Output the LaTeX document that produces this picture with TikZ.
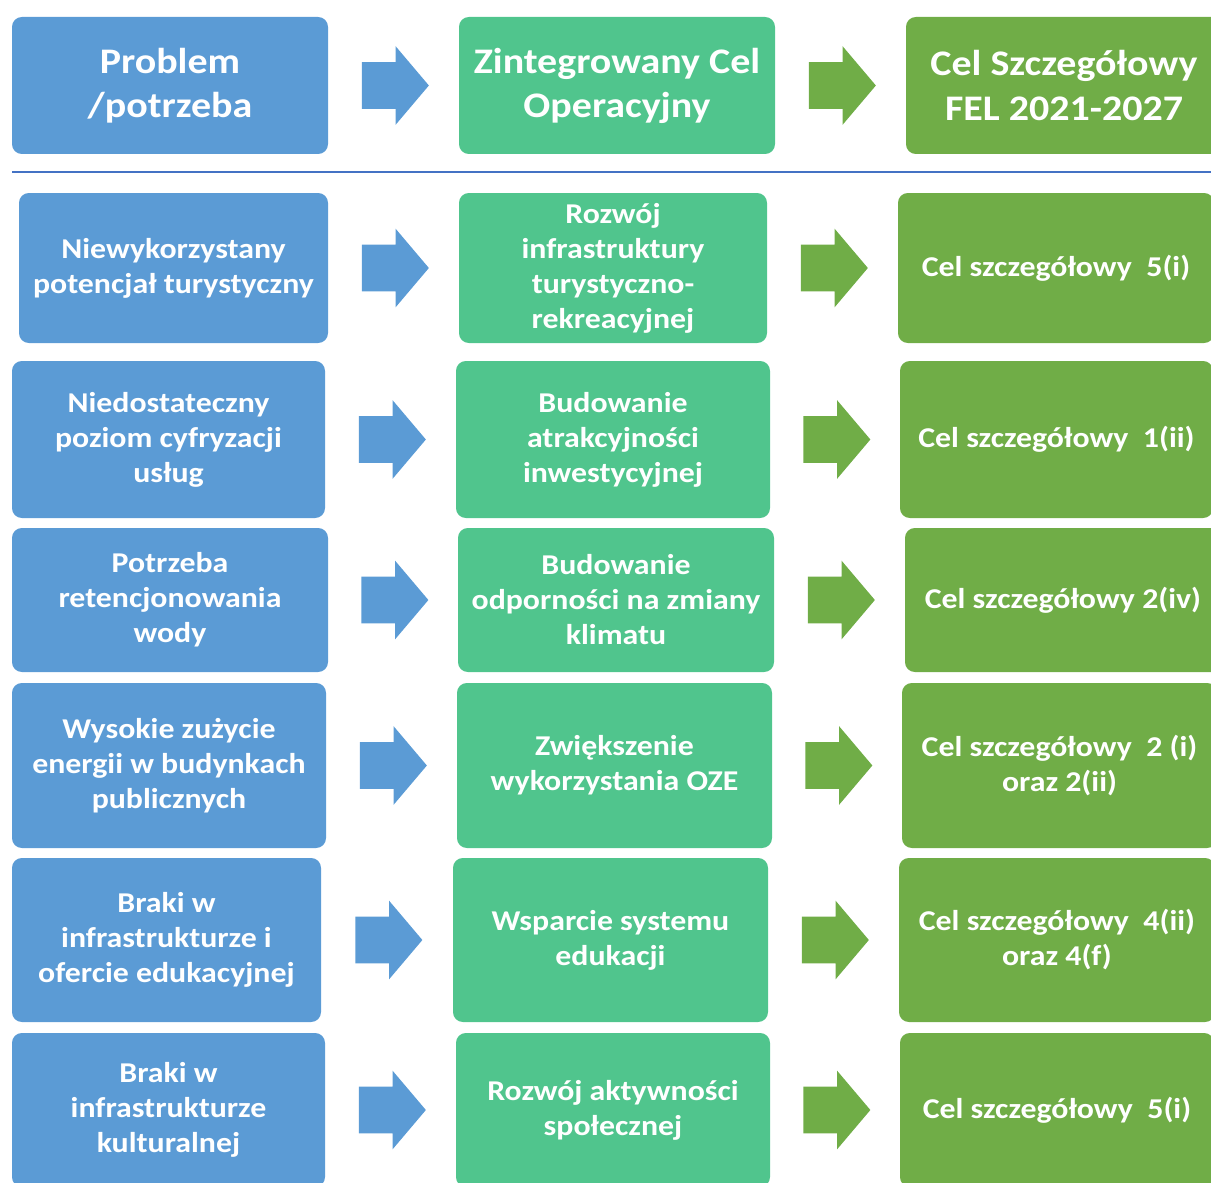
\documentclass[tikz,border=0pt]{standalone}
\usepackage{fontspec}
\setmainfont{Carlito}[FakeStretch=1.11]
\usetikzlibrary{shapes.arrows,calc}

\definecolor{probblue}{HTML}{5B9BD5}
\definecolor{celteal}{HTML}{50C58D}
\definecolor{felgreen}{HTML}{70AD47}
\definecolor{sepline}{HTML}{4472C4}

\tikzset{
    cbox/.style={rounded corners=7pt, draw=none, text=white, align=center, inner sep=0pt,
        font={\fontsize{20.4pt}{24.9pt}\selectfont\bfseries}},
    headbox/.style={cbox, font={\fontsize{25.6pt}{31.3pt}\selectfont\bfseries}},
    barrow/.style={single arrow, draw=none, fill=#1, inner xsep=0pt, inner ysep=0.575cm,
        minimum width=1.95cm, minimum height=1.675cm, xshift=-0.2cm,
        single arrow head extend=0.4cm, single arrow tip angle=99.5}
}

\begin{document}
\begin{tikzpicture}
        \def \s {0.025}

        \useasboundingbox (0,0) rectangle (1211*\s, -1183*\s);
        \clip (0,0) rectangle (1211*\s, -1183*\s);

        % naglowek
        \node[headbox, fill=probblue, minimum width=316*\s cm, minimum height=137*\s cm] (p0) at (170*\s, -85.5*\s) {Problem\\/potrzeba};
        \node[headbox, fill=celteal, minimum width=316*\s cm, minimum height=137*\s cm] (z0) at (617*\s, -85.5*\s) {Zintegrowany Cel\\Operacyjny};
        \node[headbox, fill=felgreen, minimum width=316*\s cm, minimum height=137*\s cm] (c0) at (1064*\s, -85.5*\s) {Cel Szczegółowy\\FEL 2021-2027};

        \coordinate (sepL) at (12*\s, -172*\s);
        \coordinate (sepR) at (1211*\s, -172*\s);
        \draw[sepline, line width=0.8pt] (sepL) -- (sepR);

        % wiersz 1
        \node[cbox, fill=probblue, minimum width=309*\s cm, minimum height=150*\s cm] (p1) at (173.5*\s, -268*\s) {Niewykorzystany\\potencjał turystyczny};
        \node[cbox, fill=celteal, minimum width=308*\s cm, minimum height=150*\s cm] (z1) at (613*\s, -268*\s) {Rozwój\\infrastruktury\\turystyczno-\\rekreacyjnej};
        \node[cbox, fill=felgreen, minimum width=316*\s cm, minimum height=150*\s cm] (c1) at (1056*\s, -268*\s) {Cel szczegółowy~~5(i)};

        % wiersz 2
        \node[cbox, fill=probblue, minimum width=313*\s cm, minimum height=157*\s cm] (p2) at (168.5*\s, -439.5*\s) {Niedostateczny\\poziom cyfryzacji\\usług};
        \node[cbox, fill=celteal, minimum width=314*\s cm, minimum height=157*\s cm] (z2) at (613*\s, -439.5*\s) {Budowanie\\atrakcyjności\\inwestycyjnej};
        \node[cbox, fill=felgreen, minimum width=313*\s cm, minimum height=157*\s cm] (c2) at (1056.5*\s, -439.5*\s) {Cel szczegółowy~~1(ii)};

        % wiersz 3
        \node[cbox, fill=probblue, minimum width=316*\s cm, minimum height=144*\s cm] (p3) at (170*\s, -600*\s) {Potrzeba\\retencjonowania\\wody};
        \node[cbox, fill=celteal, minimum width=316*\s cm, minimum height=144*\s cm] (z3) at (616*\s, -600*\s) {Budowanie\\odporności na zmiany\\klimatu};
        \node[cbox, fill=felgreen, minimum width=316*\s cm, minimum height=144*\s cm] (c3) at (1063*\s, -600*\s) {Cel szczegółowy 2(iv)};

        % wiersz 4
        \node[cbox, fill=probblue, minimum width=314*\s cm, minimum height=165*\s cm] (p4) at (169*\s, -765.5*\s) {Wysokie zużycie\\energii w budynkach\\publicznych};
        \node[cbox, fill=celteal, minimum width=315*\s cm, minimum height=165*\s cm] (z4) at (614.5*\s, -765.5*\s) {Zwiększenie\\wykorzystania OZE};
        \node[cbox, fill=felgreen, minimum width=315*\s cm, minimum height=165*\s cm] (c4) at (1059.5*\s, -765.5*\s) {Cel szczegółowy~~2 (i)\\oraz 2(ii)};

        % wiersz 5
        \node[cbox, fill=probblue, minimum width=309*\s cm, minimum height=164*\s cm] (p5) at (166.5*\s, -940*\s) {Braki w\\infrastrukturze i\\ofercie edukacyjnej};
        \node[cbox, fill=celteal, minimum width=315*\s cm, minimum height=164*\s cm] (z5) at (610.5*\s, -940*\s) {Wsparcie systemu\\edukacji};
        \node[cbox, fill=felgreen, minimum width=316*\s cm, minimum height=164*\s cm] (c5) at (1057*\s, -940*\s) {Cel szczegółowy~~4(ii)\\oraz 4(f)};

        % wiersz 6
        \node[cbox, fill=probblue, minimum width=313*\s cm, minimum height=154*\s cm] (p6) at (168.5*\s, -1110*\s) {Braki w\\infrastrukturze\\kulturalnej};
        \node[cbox, fill=celteal, minimum width=314*\s cm, minimum height=154*\s cm] (z6) at (613*\s, -1110*\s) {Rozwój aktywności\\społecznej};
        \node[cbox, fill=felgreen, minimum width=314*\s cm, minimum height=154*\s cm] (c6) at (1057*\s, -1110*\s) {Cel szczegółowy~~5(i)};

        % strzalki
        \foreach \r in {0,...,6} {
            \node[barrow=probblue] (ab\r) at ($(p\r.east)!0.5!(z\r.west)$) {};
            \node[barrow=felgreen] (ag\r) at ($(z\r.east)!0.5!(c\r.west)$) {};
        }
    \end{tikzpicture}
\end{document}
